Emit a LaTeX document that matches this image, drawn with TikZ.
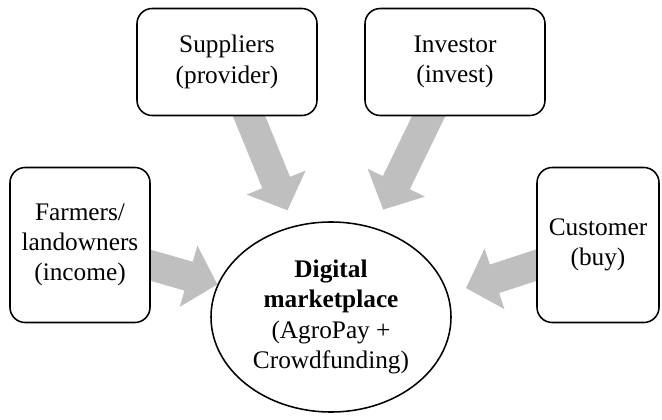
\documentclass[tikz,border=0pt]{standalone}
\usepackage{fontspec}
\setmainfont{Liberation Serif}
\usetikzlibrary{arrows.meta}
\usetikzlibrary{shapes.geometric}
\usetikzlibrary{backgrounds}

\definecolor{flowgray}{RGB}{191,191,191}

\begin{document}
\begin{tikzpicture}[
	party/.style={draw,fill=white,line width=1.1pt,rounded corners=0.38cm,align=center,inner sep=0pt,font=\fontsize{18}{21.5}\selectfont},
	flow/.style={draw=flowgray,line width=0.75cm,shorten <=-0.4cm,-{Triangle[length=0.75cm,width=1.55cm]}}
]
	\useasboundingbox (0,0) rectangle (16.55,10.475);
\node[party,minimum width=3.5cm,minimum height=3.875cm] (farm) at (2,4.35) {Farmers/\\landowners\\(income)};
\node[party,minimum width=4.5cm,minimum height=2.675cm] (sup) at (5.675,8.925) {Suppliers\\(provider)};
\node[party,minimum width=4.5cm,minimum height=2.675cm] (inv) at (11.375,8.925) {Investor\\(invest)};
\node[party,minimum width=3.05cm,minimum height=3.875cm] (cust) at (14.95,4.35) {Customer\\(buy)};
	\node[draw,fill=white,ellipse,line width=1.1pt,minimum width=6cm,minimum height=4.75cm,align=center,inner sep=0pt,font=\fontsize{18}{21.5}\selectfont] (dm) at (8.275,2.55) {\textbf{Digital}\\\textbf{marketplace}\\(AgroPay +\\Crowdfunding)};
	% arrows into the marketplace
	\begin{scope}[on background layer]
	\draw[flow] (farm) -- (dm);
	\draw[flow,shorten >=0.42cm] (sup) -- (dm);
	\draw[flow,shorten >=0.5cm] (inv) -- (dm);
	\draw[flow,shorten >=3.55cm] (cust) -- ([yshift=-0.38cm]dm.center);
	\end{scope}
\end{tikzpicture}
\end{document}
